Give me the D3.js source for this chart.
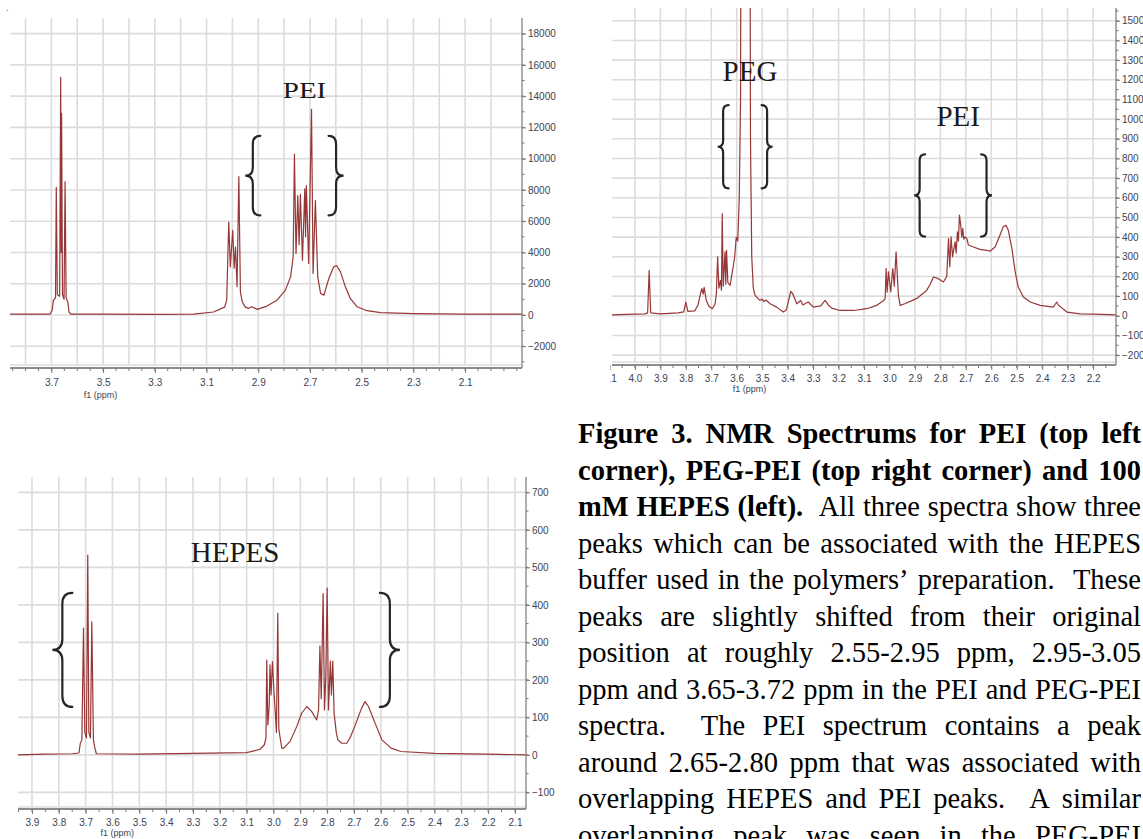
<!DOCTYPE html>
<html>
<head>
<meta charset="utf-8">
<script src="https://cdn.jsdelivr.net/npm/d3@7"></script>
<style>
  html, body { margin: 0; padding: 0; background: #fff; }
  svg { display: block; }
</style>
</head>
<body>
<div id="chart"></div>
<script>
// spectra: [ppm, intensity]
const pei = [
  [3.86, 60], [3.75, 50], [3.705, 60], [3.697, 300], [3.692, 950], [3.684, 1100], [3.681, 8170],
  [3.677, 1300], [3.668, 1200], [3.664, 15200], [3.662, 4000], [3.6605, 12900], [3.657, 1300],
  [3.651, 1000], [3.647, 8540], [3.643, 1100], [3.636, 800], [3.632, 200], [3.625, 60], [3.5, 50],
  [3.3, 40], [3.15, 50], [3.073, 190], [3.03, 500], [3.022, 955], [3.014, 5940], [3.008, 3080],
  [2.9987, 5410], [2.993, 3000], [2.988, 4350], [2.982, 1800], [2.975, 8850], [2.969, 1500],
  [2.962, 850], [2.95, 500], [2.937, 425], [2.925, 530], [2.904, 360], [2.866, 570], [2.827, 955],
  [2.795, 1590], [2.775, 2440], [2.765, 3710], [2.76, 10300], [2.754, 3930], [2.747, 7640],
  [2.742, 4500], [2.737, 7710], [2.729, 3500], [2.72, 8070], [2.717, 5000], [2.714, 8280],
  [2.705, 3290], [2.694, 13160], [2.688, 2650], [2.679, 7320], [2.67, 2440], [2.659, 1380],
  [2.646, 1270], [2.627, 2340], [2.608, 3080], [2.597, 3165], [2.582, 2760], [2.563, 1800],
  [2.544, 1060], [2.518, 530], [2.479, 275], [2.427, 150], [2.3, 90], [2.1, 60], [1.88, 50]
];

const pegPei = [
  [4.09, 5], [4.0, 8], [3.96, 10], [3.95, 15], [3.944, 231], [3.938, 15], [3.9, 10], [3.83, 15],
  [3.808, 20], [3.8, 70], [3.792, 22], [3.765, 25], [3.752, 55], [3.742, 115], [3.737, 138],
  [3.732, 110], [3.728, 145], [3.72, 80], [3.71, 50], [3.696, 36], [3.685, 60], [3.68, 112],
  [3.675, 300], [3.67, 140], [3.664, 180], [3.66, 130], [3.657, 520], [3.653, 150], [3.646, 325],
  [3.643, 160], [3.64, 333], [3.635, 170], [3.626, 155], [3.613, 257], [3.608, 300], [3.602, 400],
  [3.596, 380], [3.59, 600], [3.585, 1100], [3.582, 3000], [3.566, 50000], [3.549, 3000],
  [3.546, 900], [3.541, 300], [3.535, 142], [3.528, 104], [3.509, 78], [3.5, 85], [3.493, 72],
  [3.485, 80], [3.469, 61], [3.443, 44], [3.417, 19], [3.405, 30], [3.394, 90], [3.388, 124],
  [3.38, 112], [3.364, 61], [3.349, 78], [3.34, 55], [3.332, 61], [3.319, 70], [3.299, 44],
  [3.27, 50], [3.253, 78], [3.24, 55], [3.227, 39], [3.194, 27], [3.142, 27], [3.089, 36],
  [3.05, 53], [3.025, 75], [3.017, 87], [3.013, 240], [3.009, 120], [3.004, 223], [2.995, 122],
  [2.987, 240], [2.981, 150], [2.974, 325], [2.965, 104], [2.958, 53], [2.94, 61], [2.894, 87],
  [2.854, 129], [2.84, 160], [2.827, 197], [2.81, 190], [2.788, 172], [2.775, 200], [2.768, 393],
  [2.763, 250], [2.758, 401], [2.752, 300], [2.749, 325], [2.742, 376], [2.738, 320], [2.733, 427],
  [2.729, 380], [2.725, 512], [2.72, 460], [2.716, 400], [2.712, 444], [2.708, 390], [2.703, 401],
  [2.696, 393], [2.69, 360], [2.67, 350], [2.644, 338], [2.618, 333], [2.605, 328], [2.585, 350],
  [2.566, 410], [2.553, 452], [2.542, 460], [2.533, 435], [2.519, 342], [2.506, 223], [2.494, 146],
  [2.474, 95], [2.447, 70], [2.408, 53], [2.357, 44], [2.348, 60], [2.343, 70], [2.337, 55],
  [2.33, 48], [2.303, 19], [2.25, 10], [2.2, 8], [2.11, 5]
];

const hepes = [
  [3.952, 0], [3.85, 2], [3.75, 3], [3.725, 5], [3.72, 30], [3.714, 40], [3.708, 338], [3.703, 60],
  [3.697, 45], [3.692, 533], [3.688, 60], [3.682, 45], [3.677, 355], [3.671, 40], [3.666, 20],
  [3.66, 3], [3.5, 2], [3.3, 4], [3.1, 6], [3.05, 15], [3.034, 27], [3.028, 45], [3.025, 253],
  [3.021, 80], [3.016, 130], [3.013, 240], [3.009, 160], [3.004, 249], [2.998, 165], [2.992, 100],
  [2.989, 60], [2.984, 378], [2.98, 70], [2.976, 49], [2.969, 18], [2.962, 18], [2.938, 36],
  [2.913, 76], [2.895, 111], [2.876, 129], [2.858, 116], [2.839, 93], [2.832, 120], [2.827, 290],
  [2.822, 150], [2.815, 430], [2.81, 120], [2.805, 210], [2.8, 445], [2.795, 120], [2.79, 210],
  [2.788, 250], [2.784, 160], [2.779, 250], [2.774, 110], [2.766, 60], [2.76, 40], [2.745, 31],
  [2.727, 31], [2.715, 45], [2.697, 76], [2.672, 124], [2.659, 142], [2.646, 129], [2.621, 84],
  [2.596, 40], [2.562, 18], [2.525, 9], [2.4, 4], [2.2, 2], [2.059, 0]
];

// axis tick labels
const peiXTicks = [3.7, 3.5, 3.3, 3.1, 2.9, 2.7, 2.5, 2.3, 2.1];
const peiYTicks = [18000, 16000, 14000, 12000, 10000, 8000, 6000, 4000, 2000, 0, -2000];
const pegXTicks = [4.1, 4.0, 3.9, 3.8, 3.7, 3.6, 3.5, 3.4, 3.3, 3.2, 3.1, 3.0, 2.9, 2.8, 2.7, 2.6, 2.5, 2.4, 2.3, 2.2];
const pegYTicks = [1500, 1400, 1300, 1200, 1100, 1000, 900, 800, 700, 600, 500, 400, 300, 200, 100, 0, -100, -200];
const hepesXTicks = [3.9, 3.8, 3.7, 3.6, 3.5, 3.4, 3.3, 3.2, 3.1, 3.0, 2.9, 2.8, 2.7, 2.6, 2.5, 2.4, 2.3, 2.2, 2.1];
const hepesYTicks = [700, 600, 500, 400, 300, 200, 100, 0, -100];

// annotations: label position and brace ranges in data units
const peiLabels = [{ text: 'PEI', ppm: 2.721, v: 13885 }];
const peiBraces = [{ ppm: 2.95, top: 11460, bottom: 6370, side: 'L' }, { ppm: 2.57, top: 11460, bottom: 6370, side: 'R' }];
const pegLabels = [{ text: 'PEG', ppm: 3.548, v: 1194 }, { text: 'PEI', ppm: 2.73, v: 964 }];
const pegBraces = [
  { ppm: 3.675, top: 1071, bottom: 648, side: 'L' }, { ppm: 3.459, top: 1071, bottom: 648, side: 'R' },
  { ppm: 2.903, top: 821, bottom: 403, side: 'L' }, { ppm: 2.597, top: 821, bottom: 403, side: 'R' }
];
const hepesLabels = [{ text: 'HEPES', ppm: 3.143, v: 515 }];
const hepesBraces = [{ ppm: 3.824, top: 432, bottom: 128, side: 'L' }, { ppm: 2.529, top: 432, bottom: 128, side: 'R' }];

const captionLines = [
  { text: 'Figure 3. NMR Spectrums for PEI (top left', bold: 99 },
  { text: 'corner), PEG-PEI (top right corner) and 100', bold: 99 },
  { text: 'mM HEPES (left).  All three spectra show three', bold: 16 },
  { text: 'peaks which can be associated with the HEPES', bold: 0 },
  { text: 'buffer used in the polymers\u2019 preparation.  These', bold: 0 },
  { text: 'peaks are slightly shifted from their original', bold: 0 },
  { text: 'position at roughly 2.55-2.95 ppm, 2.95-3.05', bold: 0 },
  { text: 'ppm and 3.65-3.72 ppm in the PEI and PEG-PEI', bold: 0 },
  { text: 'spectra.  The PEI spectrum contains a peak', bold: 0 },
  { text: 'around 2.65-2.80 ppm that was associated with', bold: 0 },
  { text: 'overlapping HEPES and PEI peaks.  A similar', bold: 0 },
  { text: 'overlapping peak was seen in the PEG-PEI', bold: 0 }
];

const width = 1143;
const height = 839;
const lineColor = '#973636';
const gridColor = '#dcdcdc';
const labelColor = '#3c4352';

const svg = d3.select('#chart').append('svg')
  .attr('width', width)
  .attr('height', height)
  .attr('viewBox', `0 0 ${width} ${height}`);

svg.append('rect').attr('width', width).attr('height', height).attr('fill', '#fff');

// stray dot in the top-left corner of the scan
svg.append('text').attr('x', 6).attr('y', 11).attr('font-size', 10).attr('fill', '#777').text('.');

function bracePath(tipX, y0, y1, w, side) {
  const dir = side === 'L' ? 1 : -1;
  const hook = tipX + dir * w;
  const stem = tipX + dir * w * 0.5;
  const ym = (y0 + y1) / 2;
  const c = w * 0.55;
  return `M${hook},${y0} Q${stem},${y0} ${stem},${y0 + c} L${stem},${ym - c} ` +
    `Q${stem},${ym} ${tipX},${ym} Q${stem},${ym} ${stem},${ym + c} ` +
    `L${stem},${y1 - c} Q${stem},${y1} ${hook},${y1}`;
}

function drawPanel(cfg) {
  const g = svg.append('g').attr('class', 'panel');
  if (cfg.clipLeft) {
    const cid = 'clip-panel-' + cfg.id;
    svg.append('clipPath').attr('id', cid).append('rect')
      .attr('x', cfg.clipLeft).attr('y', 0).attr('width', width - cfg.clipLeft).attr('height', height);
    g.attr('clip-path', `url(#${cid})`);
  }

  const x = d3.scaleLinear().domain(cfg.xDomain).range(cfg.xRange);
  const y = d3.scaleLinear().domain(cfg.yDomain).range(cfg.yRange);
  const [left, right] = cfg.xRange;
  const [top, bottom] = cfg.yRange;

  // grid
  const grid = g.append('g').attr('class', 'grid')
    .attr('stroke', gridColor).attr('stroke-width', 1.6);
  grid.selectAll('line.v')
    .data(cfg.xGrid)
    .join('line')
    .attr('class', 'v')
    .attr('x1', d => x(d)).attr('x2', d => x(d))
    .attr('y1', top).attr('y2', bottom);
  grid.selectAll('line.h')
    .data(cfg.yTicks)
    .join('line')
    .attr('class', 'h')
    .attr('x1', left).attr('x2', right)
    .attr('y1', d => y(d)).attr('y2', d => y(d));
  grid.append('line')
    .attr('x1', left).attr('x2', right)
    .attr('y1', bottom).attr('y2', bottom);

  // spectrum
  const cid2 = 'clip-plot-' + cfg.id;
  svg.append('clipPath').attr('id', cid2).append('rect')
    .attr('x', left).attr('y', top).attr('width', right - left).attr('height', bottom - top);
  const line = d3.line().x(d => x(d[0])).y(d => y(d[1]));
  g.append('path')
    .datum(cfg.data)
    .attr('clip-path', `url(#${cid2})`)
    .attr('fill', 'none')
    .attr('stroke', lineColor)
    .attr('stroke-width', 1.2)
    .attr('stroke-linejoin', 'round')
    .attr('d', line);

  // x axis
  const xAxisG = g.append('g')
    .attr('transform', `translate(0,${cfg.axisY})`)
    .call(d3.axisBottom(x).tickValues(cfg.xTicks).tickSize(5).tickSizeOuter(0)
      .tickPadding(cfg.xPad).tickFormat(d3.format('.1f')));
  xAxisG.select('.domain').attr('stroke', '#8c8c8c').attr('stroke-width', 1.8)
    .attr('d', `M${left},0H${right}`);
  xAxisG.selectAll('.tick line').attr('stroke', '#777');
  xAxisG.selectAll('text').attr('fill', labelColor)
    .attr('font-family', '"Liberation Sans", Arial, sans-serif').attr('font-size', 10);
  g.append('g')
    .attr('transform', `translate(0,${cfg.axisY})`)
    .selectAll('line')
    .data(cfg.xMinor)
    .join('line')
    .attr('x1', d => x(d)).attr('x2', d => x(d))
    .attr('y1', 0).attr('y2', 3)
    .attr('stroke', '#777');

  g.append('text')
    .attr('x', x(cfg.f1.ppm)).attr('y', cfg.f1.y)
    .attr('text-anchor', 'middle')
    .attr('font-family', '"Liberation Sans", Arial, sans-serif')
    .attr('font-size', 9)
    .attr('fill', labelColor)
    .text('f1 (ppm)');

  // y axis on the right
  const yAxisG = g.append('g')
    .attr('transform', `translate(${right},0)`)
    .call(d3.axisRight(y).tickValues(cfg.yTicks).tickSize(4).tickSizeOuter(0).tickPadding(2)
      .tickFormat(d3.format('d')));
  yAxisG.select('.domain').attr('stroke', '#8c8c8c').attr('stroke-width', 1.4)
    .attr('d', `M0,${top}V${cfg.axisY}`);
  yAxisG.selectAll('.tick line').attr('stroke', '#777');
  yAxisG.selectAll('text').attr('fill', labelColor)
    .attr('font-family', '"Liberation Sans", Arial, sans-serif').attr('font-size', 10);
  g.append('g')
    .attr('transform', `translate(${right},0)`)
    .selectAll('line')
    .data(cfg.yMinor)
    .join('line')
    .attr('x1', 0).attr('x2', 2.5)
    .attr('y1', d => y(d)).attr('y2', d => y(d))
    .attr('stroke', '#777');

  // braces
  g.selectAll('path.brace')
    .data(cfg.braces)
    .join('path')
    .attr('class', 'brace')
    .attr('fill', 'none')
    .attr('stroke', '#262626')
    .attr('stroke-width', 2.2)
    .attr('stroke-linecap', 'round')
    .attr('d', d => bracePath(x(d.ppm), y(d.top), y(d.bottom), cfg.braceW, d.side));

  // labels
  g.selectAll('text.lbl')
    .data(cfg.labels)
    .join('text')
    .attr('class', 'lbl')
    .attr('text-anchor', 'middle')
    .attr('font-family', '"Liberation Serif", "Times New Roman", serif')
    .attr('font-size', 29)
    .attr('fill', '#1a1a1a')
    .attr('transform', d => `translate(${x(d.ppm)},${y(d.v)}) scale(1,${cfg.labelScaleY || 1})`)
    .text(d => d.text);
}

const step = (a, b, s) => d3.range(Math.round(a / s), Math.round(b / s) + 1).map(k => +(k * s).toFixed(2));

drawPanel({
  id: 'pei', data: pei,
  xDomain: [3.86, 1.88], xRange: [10, 522],
  yDomain: [19000, -3200], yRange: [18, 365],
  axisY: 368, xPad: 6,
  xTicks: peiXTicks, xGrid: step(2.0, 3.8, 0.1), xMinor: step(1.9, 3.85, 0.05),
  yTicks: peiYTicks, yMinor: step(-3000, 18000, 1000),
  f1: { ppm: 3.51, y: 398 },
  braces: peiBraces, braceW: 15, labels: peiLabels, labelScaleY: 0.82
});

drawPanel({
  id: 'peg', data: pegPei, clipLeft: 610,
  xDomain: [4.09, 2.11], xRange: [612, 1116],
  yDomain: [1565, -235], yRange: [8, 362],
  axisY: 365, xPad: 5,
  xTicks: pegXTicks, xGrid: step(2.2, 4.0, 0.1), xMinor: step(2.15, 4.05, 0.05),
  yTicks: pegYTicks, yMinor: step(-200, 1550, 50),
  f1: { ppm: 3.55, y: 392 },
  braces: pegBraces, braceW: 11, labels: pegLabels
});

drawPanel({
  id: 'hepes', data: hepes,
  xDomain: [3.952, 2.059], xRange: [18, 526],
  yDomain: [741, -139], yRange: [477, 807],
  axisY: 809, xPad: 5,
  xTicks: hepesXTicks, xGrid: step(2.1, 3.9, 0.1), xMinor: step(2.1, 3.95, 0.05),
  yTicks: hepesYTicks, yMinor: step(-100, 700, 50),
  f1: { ppm: 3.582, y: 836 },
  braces: hepesBraces, braceW: 20, labels: hepesLabels
});

// caption, justified between two edges
const capLeft = 578;
const capRight = 1141;
const capTop = 443;
const capLead = 36.5;
const cap = svg.append('g')
  .attr('font-family', '"Liberation Serif", "Times New Roman", serif')
  .attr('font-size', 28.5)
  .attr('fill', '#000');

captionLines.forEach((ln, i) => {
  let pos = 0;
  const words = ln.text.split(' ').map(w => {
    const item = { w, bold: pos < ln.bold };
    pos += w.length + 1;
    return item;
  });
  const nodes = words.map(d => cap.append('text')
    .attr('y', capTop + i * capLead)
    .attr('font-weight', d.bold ? 'bold' : 'normal')
    .text(d.w));
  const widths = nodes.map(n => n.node().getComputedTextLength());
  const gap = (capRight - capLeft - d3.sum(widths)) / (words.length - 1);
  let xPos = capLeft;
  nodes.forEach((n, k) => {
    n.attr('x', xPos);
    xPos += widths[k] + gap;
  });
});
</script>
</body>
</html>
